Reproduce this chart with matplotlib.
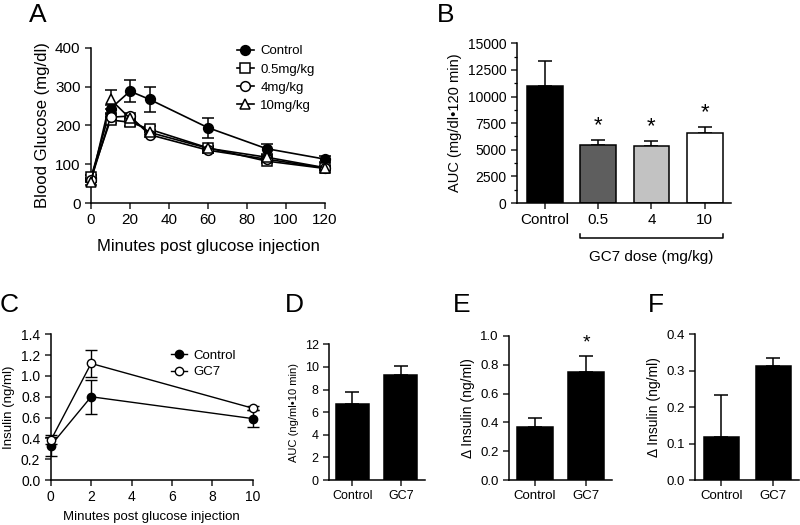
import matplotlib.pyplot as plt
import matplotlib.transforms as mtransforms
import numpy as np

plt.rcParams['font.family'] = ['Liberation Sans', 'DejaVu Sans']
plt.rcParams['axes.linewidth'] = 1.1
plt.rcParams['xtick.major.width'] = 1.1
plt.rcParams['ytick.major.width'] = 1.1
plt.rcParams['xtick.major.size'] = 4
plt.rcParams['ytick.major.size'] = 4

# Panel A: glucose tolerance
time_a = [0, 10, 20, 30, 60, 90, 120]
glc_control = [65, 243, 288, 267, 194, 140, 113]
glc_control_err = [8, 10, 29, 33, 26, 13, 8]
glc_05 = [67, 214, 208, 190, 142, 108, 89]
glc_05_err = [5, 8, 10, 8, 6, 5, 4]
glc_4 = [60, 221, 224, 176, 136, 113, 90]
glc_4_err = [5, 8, 8, 7, 6, 5, 4]
glc_10 = [53, 267, 218, 182, 141, 118, 91]
glc_10_err = [6, 24, 8, 7, 6, 5, 4]

# Panel B: AUC
auc_groups = ['Control', '0.5', '4', '10']
auc_values = [11000, 5470, 5400, 6560]
auc_err = [2370, 470, 410, 570]

# Panel C: insulin
time_c = [0, 2, 10]
ins_control = [0.33, 0.80, 0.59]
ins_control_err = [0.10, 0.165, 0.08]
ins_gc7 = [0.38, 1.12, 0.69]
ins_gc7_err = [0.03, 0.13, 0.02]

two_groups = ['Control', 'GC7']
auc_ins = [6.7, 9.26]
auc_ins_err = [1.06, 0.83]
delta_e = [0.366, 0.752]
delta_e_err = [0.067, 0.109]
delta_f = [0.119, 0.313]
delta_f_err = [0.114, 0.021]


def style(ax):
    ax.spines['top'].set_visible(False)
    ax.spines['right'].set_visible(False)
    ax.tick_params(direction='out', color='#222222')


def bars(ax, values, err, colors, width):
    x = np.arange(len(values))
    ax.errorbar(x, values, yerr=[np.zeros(len(err)), err], fmt='none',
                ecolor='black', elinewidth=1.1, capsize=5, capthick=1.1, zorder=1)
    ax.bar(x, values, width=width, color=colors, edgecolor='black',
           linewidth=1.1, zorder=2)
    return x


def main():
    fig = plt.figure(figsize=(8, 5.25), dpi=100)

    # ---- A ----
    axA = fig.add_axes([0.11375, 0.6133, 0.2925, 0.2958])
    style(axA)
    series = [(glc_control, glc_control_err, 'o', 'black', 'Control'),
              (glc_05, glc_05_err, 's', 'white', '0.5mg/kg'),
              (glc_4, glc_4_err, 'o', 'white', '4mg/kg'),
              (glc_10, glc_10_err, '^', 'white', '10mg/kg')]
    for vals, err, mk, fc, lab in series:
        axA.errorbar(time_a, vals, yerr=err, fmt='-' + mk, color='black',
                     mfc=fc, mec='black', ms=7, mew=1.1, lw=1.2,
                     capsize=4, capthick=1.1, elinewidth=1.1, label=lab,
                     clip_on=False, zorder=3)
    axA.set_xlim(0, 120)
    axA.set_ylim(0, 400)
    axA.set_xticks(range(0, 121, 20))
    axA.set_yticks(range(0, 401, 100))
    axA.tick_params(labelsize=11)
    axA.set_xlabel('Minutes post glucose injection', fontsize=12, labelpad=8)
    axA.set_ylabel('Blood Glucose (mg/dl)', fontsize=12)
    handles, labels = axA.get_legend_handles_labels()
    handles = [h[0] for h in handles]
    axA.legend(handles, labels, loc='upper left', bbox_to_anchor=(0.6, 1.05),
               frameon=False, fontsize=9.5, handlelength=1.3, handletextpad=0.5,
               labelspacing=0.45, borderaxespad=0)
    fig.text(0.036, 0.971, 'A', fontsize=19, va='center')

    # ---- B ----
    axB = fig.add_axes([0.646, 0.6133, 0.2675, 0.3042])
    style(axB)
    xb = bars(axB, auc_values, auc_err, ['black', '#5e5e5e', '#c2c2c2', 'white'], 0.67)
    axB.set_xlim(-0.53, 3.49)
    axB.set_ylim(0, 15000)
    axB.set_yticks(range(0, 15001, 2500))
    axB.set_yticks(range(0, 15001, 1250), minor=True)
    axB.tick_params(axis='y', which='minor', length=2, width=0.9)
    axB.set_xticks(xb)
    axB.set_xticklabels(auc_groups, fontsize=11)
    axB.tick_params(axis='y', labelsize=10)
    axB.set_ylabel('AUC (mg/dl\u2022120 min)', fontsize=10.5)
    for i in range(1, 4):
        axB.text(xb[i], auc_values[i] + auc_err[i] + 1350, '*', ha='center',
                 va='center', fontsize=16)
    trans = mtransforms.blended_transform_factory(axB.transData, axB.transAxes)
    x0 = xb[1] - 0.335
    x1 = xb[3] + 0.335
    axB.plot([x0, x0, x1, x1], [-0.194, -0.219, -0.219, -0.194], color='black',
             lw=1.1, transform=trans, clip_on=False)
    axB.text((x0 + x1) / 2, -0.34, 'GC7 dose (mg/kg)', ha='center', va='center',
             fontsize=11, transform=trans)
    fig.text(0.546, 0.971, 'B', fontsize=19, va='center')

    # ---- C ----
    axC = fig.add_axes([0.0634, 0.0857, 0.2525, 0.2775])
    style(axC)
    axC.errorbar(time_c, ins_control, yerr=ins_control_err, fmt='-o', color='black',
                 mfc='black', mec='black', ms=6, lw=1.0, capsize=4, capthick=1.0,
                 elinewidth=1.0, label='Control', clip_on=False, zorder=3)
    axC.errorbar(time_c, ins_gc7, yerr=ins_gc7_err, fmt='-o', color='black',
                 mfc='white', mec='black', ms=6, mew=1.0, lw=1.0, capsize=4,
                 capthick=1.0, elinewidth=1.0, label='GC7', clip_on=False, zorder=3)
    axC.set_xlim(0, 10)
    axC.set_ylim(0, 1.4)
    axC.set_xticks(range(0, 11, 2))
    axC.set_yticks(np.arange(0, 1.41, 0.2))
    axC.yaxis.set_major_formatter(plt.FormatStrFormatter('%.1f'))
    axC.tick_params(labelsize=10)
    axC.set_xlabel('Minutes post glucose injection', fontsize=9.5, labelpad=5)
    axC.set_ylabel('Insulin (ng/ml)', fontsize=9.5)
    handles, labels = axC.get_legend_handles_labels()
    handles = [h[0] for h in handles]
    axC.legend(handles, labels, loc='upper left', bbox_to_anchor=(0.57, 0.93),
               frameon=False, fontsize=9.5, handlelength=1.2, handletextpad=0.5,
               labelspacing=0.3, borderaxespad=0)
    fig.text(0.0, 0.419, 'C', fontsize=19, va='center')

    # ---- D ----
    axD = fig.add_axes([0.41125, 0.0857, 0.12, 0.2585])
    style(axD)
    xd = bars(axD, auc_ins, auc_ins_err, 'black', 0.69)
    axD.set_xlim(-0.48, 1.5)
    axD.set_ylim(0, 12)
    axD.set_yticks(range(0, 13, 2))
    axD.set_xticks(xd)
    axD.set_xticklabels(two_groups)
    axD.tick_params(labelsize=9)
    axD.set_ylabel('AUC (ng/ml\u202210 min)', fontsize=8)
    fig.text(0.356, 0.419, 'D', fontsize=19, va='center')

    # ---- E ----
    axE = fig.add_axes([0.63625, 0.0857, 0.12875, 0.2743])
    style(axE)
    xe = bars(axE, delta_e, delta_e_err, 'black', 0.7)
    axE.set_xlim(-0.51, 1.51)
    axE.set_ylim(0, 1.0)
    axE.set_yticks(np.arange(0, 1.01, 0.2))
    axE.yaxis.set_major_formatter(plt.FormatStrFormatter('%.1f'))
    axE.set_xticks(xe)
    axE.set_xticklabels(two_groups)
    axE.tick_params(labelsize=9.5)
    axE.set_ylabel('\u0394 Insulin (ng/ml)', fontsize=10)
    axE.text(xe[1], delta_e[1] + delta_e_err[1] + 0.09, '*', ha='center',
             va='center', fontsize=14)
    fig.text(0.566, 0.419, 'E', fontsize=19, va='center')

    # ---- F ----
    axF = fig.add_axes([0.86875, 0.0857, 0.13, 0.2775])
    style(axF)
    xf = bars(axF, delta_f, delta_f_err, 'black', 0.68)
    axF.set_xlim(-0.51, 1.5)
    axF.set_ylim(0, 0.4)
    axF.set_yticks(np.arange(0, 0.41, 0.1))
    axF.yaxis.set_major_formatter(plt.FormatStrFormatter('%.1f'))
    axF.set_xticks(xf)
    axF.set_xticklabels(two_groups)
    axF.tick_params(labelsize=9.5)
    axF.set_ylabel('\u0394 Insulin (ng/ml)', fontsize=10)
    fig.text(0.81, 0.419, 'F', fontsize=19, va='center')

    fig.savefig('out.png', dpi=100)


if __name__ == '__main__':
    main()
